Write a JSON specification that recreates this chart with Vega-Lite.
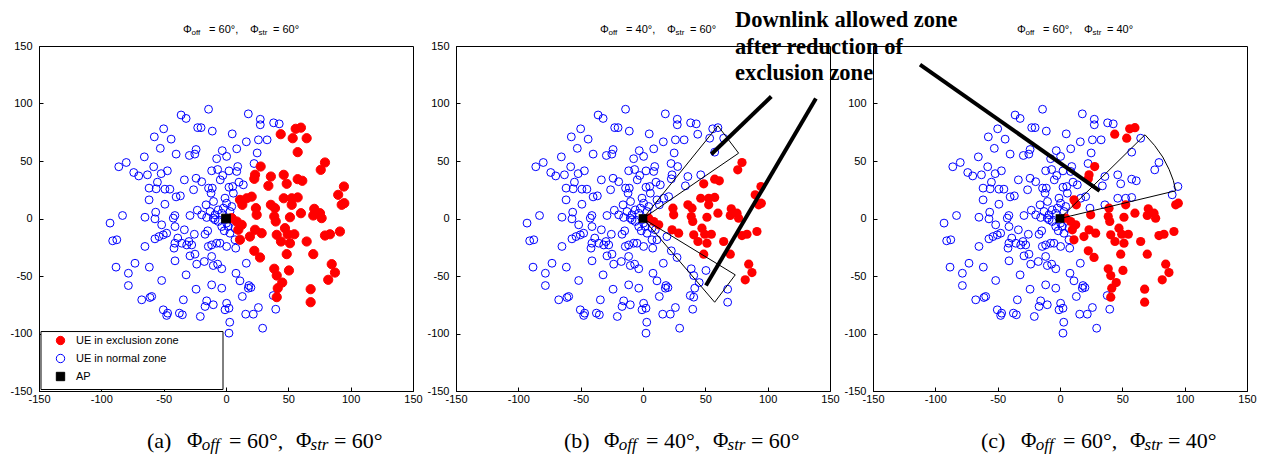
{
"$schema":"https://vega.github.io/schema/vega-lite/v6.json",
"padding":{"left":9,"top":8,"right":0,"bottom":0},
"bounds":"flush",
"spacing":43,
"config":{"view":{"stroke":"#000","strokeWidth":1},
"axis":{"grid":false,"domainColor":"#000","tickColor":"#000","labelColor":"#000","labelFont":"Liberation Sans","labelFontSize":11,"tickSize":-4,"labelOverlap":false,"labelFlush":false},
"axisX":{"labelPadding":6},"axisY":{"labelPadding":11}},
"datasets":{
"one":[{}],
"pts":[
{"x":-14,"y":95,"a":"n","b":"n","c":"n"},{"x":-36,"y":90,"a":"n","b":"n","c":"n"},{"x":-32,"y":87,"a":"n","b":"n","c":"n"},{"x":-22.7,"y":79,"a":"n","b":"n","c":"n"},{"x":-20,"y":79,"a":"n","b":"n","c":"n"},{"x":-11,"y":76,"a":"n","b":"n","c":"n"},{"x":-50,"y":78,"a":"n","b":"n","c":"n"},{"x":-57.5,"y":71,"a":"n","b":"n","c":"n"},{"x":-44,"y":69,"a":"n","b":"n","c":"n"},{"x":-52.7,"y":61,"a":"n","b":"n","c":"n"},{"x":-24,"y":60,"a":"n","b":"n","c":"n"},{"x":-25,"y":56,"a":"n","b":"n","c":"n"},{"x":-29.4,"y":54.8,"a":"n","b":"n","c":"n"},{"x":-40,"y":56,"a":"n","b":"n","c":"n"},{"x":-3,"y":59,"a":"n","b":"n","c":"n"},{"x":-7.5,"y":52,"a":"n","b":"n","c":"n"},{"x":0.5,"y":54,"a":"n","b":"n","c":"n"},{"x":-65.5,"y":53.6,"a":"n","b":"n","c":"n"},{"x":-80,"y":48.7,"a":"n","b":"n","c":"n"},{"x":-86,"y":45,"a":"n","b":"n","c":"n"},{"x":-58,"y":45,"a":"n","b":"n","c":"n"},{"x":-74,"y":40,"a":"n","b":"n","c":"n"},{"x":-70,"y":37,"a":"n","b":"n","c":"n"},{"x":-63,"y":38,"a":"n","b":"n","c":"n"},{"x":-52,"y":39,"a":"n","b":"n","c":"n"},{"x":-47,"y":41.5,"a":"n","b":"n","c":"n"},{"x":-33.4,"y":33.6,"a":"n","b":"n","c":"n"},{"x":-24,"y":35,"a":"n","b":"n","c":"n"},{"x":-19.5,"y":32,"a":"n","b":"n","c":"n"},{"x":-11.5,"y":41.5,"a":"n","b":"n","c":"n"},{"x":-6.7,"y":42.6,"a":"n","b":"n","c":"n"},{"x":-4.6,"y":33.6,"a":"n","b":"n","c":"n"},{"x":-2.6,"y":37.4,"a":"n","b":"n","c":"n"},{"x":-55,"y":31.6,"a":"n","b":"n","c":"n"},{"x":-61.7,"y":26.4,"a":"n","b":"n","c":"n"},{"x":-56,"y":25.8,"a":"n","b":"n","c":"n"},{"x":-49,"y":25.5,"a":"n","b":"n","c":"n"},{"x":-45,"y":25.5,"a":"n","b":"n","c":"n"},{"x":-26,"y":25,"a":"n","b":"n","c":"n"},{"x":-14,"y":26.4,"a":"n","b":"n","c":"n"},{"x":-11,"y":26.4,"a":"n","b":"n","c":"n"},{"x":-12,"y":22,"a":"n","b":"n","c":"n"},{"x":-61.7,"y":16.2,"a":"n","b":"n","c":"n"},{"x":-49,"y":12.4,"a":"n","b":"n","c":"n"},{"x":-40,"y":18.8,"a":"n","b":"n","c":"n"},{"x":-36.6,"y":19.7,"a":"n","b":"n","c":"n"},{"x":-16,"y":11.9,"a":"n","b":"n","c":"n"},{"x":-10,"y":14.8,"a":"n","b":"n","c":"n"},{"x":-23,"y":7.2,"a":"n","b":"n","c":"n"},{"x":-0.8,"y":17.7,"a":"n","b":"n","c":"n"},{"x":0.5,"y":13.3,"a":"n","b":"n","c":"n"},{"x":-2.1,"y":9,"a":"n","b":"n","c":"n"},{"x":-6.2,"y":7.5,"a":"n","b":"n","c":"n"},{"x":-12.8,"y":6.1,"a":"n","b":"n","c":"n"},{"x":-8.8,"y":3.2,"a":"n","b":"n","c":"n"},{"x":-3.5,"y":4.6,"a":"n","b":"n","c":"n"},
{"x":17.9,"y":91,"a":"n","b":"n","c":"n"},{"x":27.5,"y":86.3,"a":"n","b":"n","c":"n"},{"x":27.5,"y":81.5,"a":"n","b":"n","c":"n"},{"x":38.2,"y":83.2,"a":"n","b":"n","c":"n"},{"x":42.7,"y":82.3,"a":"n","b":"n","c":"n"},{"x":5,"y":73.6,"a":"n","b":"n","c":"n"},{"x":16.3,"y":66.7,"a":"n","b":"n","c":"n"},{"x":26,"y":68.4,"a":"n","b":"n","c":"n"},{"x":33,"y":68.4,"a":"n","b":"n","c":"n"},{"x":8.6,"y":60.6,"a":"n","b":"n","c":"n"},{"x":25,"y":57,"a":"n","b":"n","c":"n"},{"x":22.5,"y":47.8,"a":"n","b":"n","c":"n"},{"x":9.4,"y":45.2,"a":"n","b":"n","c":"n"},{"x":8.6,"y":40.9,"a":"n","b":"n","c":"n"},{"x":2.4,"y":41.4,"a":"n","b":"n","c":"n"},{"x":10.4,"y":31.6,"a":"n","b":"n","c":"n"},{"x":13.9,"y":29.3,"a":"n","b":"n","c":"n"},{"x":5.4,"y":27.8,"a":"n","b":"n","c":"n"},{"x":2.4,"y":27.2,"a":"n","b":"n","c":"n"},{"x":5.9,"y":22,"a":"n","b":"n","c":"n"},{"x":4.6,"y":10.4,"a":"n","b":"n","c":"n"},{"x":3.2,"y":6.1,"a":"n","b":"n","c":"n"},
{"x":-83,"y":2.6,"a":"n","b":"n","c":"n"},{"x":-65,"y":1.1,"a":"n","b":"n","c":"n"},{"x":-57,"y":-0.3,"a":"n","b":"n","c":"n"},{"x":-56.4,"y":5.5,"a":"n","b":"n","c":"n"},{"x":-42.3,"y":0.3,"a":"n","b":"n","c":"n"},{"x":-41,"y":2.6,"a":"n","b":"n","c":"n"},{"x":-28.9,"y":2.6,"a":"n","b":"n","c":"n"},{"x":-19.5,"y":3.2,"a":"n","b":"n","c":"n"},{"x":-15.5,"y":0.9,"a":"n","b":"n","c":"n"},{"x":-10.2,"y":0.3,"a":"n","b":"n","c":"n"},{"x":-93,"y":-4,"a":"n","b":"n","c":"n"},{"x":-51.6,"y":-5.5,"a":"n","b":"n","c":"n"},{"x":-40.9,"y":-7,"a":"n","b":"n","c":"n"},{"x":-33.4,"y":-9.8,"a":"n","b":"n","c":"n"},{"x":-25.4,"y":-13.7,"a":"n","b":"n","c":"n"},{"x":-16.8,"y":-13.7,"a":"n","b":"n","c":"n"},{"x":-14.7,"y":-10.7,"a":"n","b":"n","c":"n"},{"x":-3.4,"y":-7,"a":"n","b":"n","c":"n"},{"x":-1.4,"y":-10.7,"a":"n","b":"n","c":"n"},{"x":-90.9,"y":-19.4,"a":"n","b":"n","c":"n"},{"x":-87.6,"y":-18.5,"a":"n","b":"n","c":"n"},{"x":-57,"y":-17.7,"a":"n","b":"n","c":"n"},{"x":-53.7,"y":-15.7,"a":"n","b":"n","c":"n"},{"x":-50.3,"y":-14.2,"a":"n","b":"n","c":"n"},{"x":-47.6,"y":-12.8,"a":"n","b":"n","c":"n"},{"x":-41,"y":-21.5,"a":"n","b":"n","c":"n"},{"x":-38.7,"y":-17,"a":"n","b":"n","c":"n"},{"x":-35.5,"y":-21.5,"a":"n","b":"n","c":"n"},{"x":-31.5,"y":-23,"a":"n","b":"n","c":"n"},{"x":-29.7,"y":-20,"a":"n","b":"n","c":"n"},{"x":-27.5,"y":-23,"a":"n","b":"n","c":"n"},{"x":-65,"y":-24.3,"a":"n","b":"n","c":"n"},{"x":-41.7,"y":-25.8,"a":"n","b":"n","c":"n"},{"x":-24.9,"y":-31,"a":"n","b":"n","c":"n"},{"x":-28.9,"y":-32.5,"a":"n","b":"n","c":"n"},{"x":-14.2,"y":-24.3,"a":"n","b":"n","c":"n"},{"x":-11.5,"y":-23,"a":"n","b":"n","c":"n"},{"x":-7.5,"y":-21.5,"a":"n","b":"n","c":"n"},{"x":-4.8,"y":-21.5,"a":"n","b":"n","c":"n"},{"x":0.5,"y":-24.3,"a":"n","b":"n","c":"n"},{"x":-11.5,"y":-33,"a":"n","b":"n","c":"n"},{"x":-40.9,"y":-36.8,"a":"n","b":"n","c":"n"},{"x":-23.5,"y":-39.7,"a":"n","b":"n","c":"n"},{"x":-17.4,"y":-37.4,"a":"n","b":"n","c":"n"},{"x":-10.2,"y":-40.9,"a":"n","b":"n","c":"n"},{"x":-6.7,"y":-39.7,"a":"n","b":"n","c":"n"},{"x":-3.4,"y":-43.7,"a":"n","b":"n","c":"n"},{"x":-88.2,"y":-42.3,"a":"n","b":"n","c":"n"},{"x":-61.5,"y":-42.3,"a":"n","b":"n","c":"n"},{"x":-73,"y":-38.9,"a":"n","b":"n","c":"n"},{"x":-78.3,"y":-47.6,"a":"n","b":"n","c":"n"},{"x":-78.3,"y":-58.3,"a":"n","b":"n","c":"n"},{"x":-51.6,"y":-53.9,"a":"n","b":"n","c":"n"},{"x":-32,"y":-49,"a":"n","b":"n","c":"n"},{"x":-24,"y":-61.5,"a":"n","b":"n","c":"n"},{"x":-11.5,"y":-57.7,"a":"n","b":"n","c":"n"},{"x":-3.4,"y":-60.6,"a":"n","b":"n","c":"n"},{"x":-67.6,"y":-70.7,"a":"n","b":"n","c":"n"},{"x":-61,"y":-68.7,"a":"n","b":"n","c":"n"},{"x":-59.6,"y":-67.8,"a":"n","b":"n","c":"n"},{"x":-34.2,"y":-70.7,"a":"n","b":"n","c":"n"},{"x":-15.5,"y":-71.6,"a":"n","b":"n","c":"n"},{"x":-16.8,"y":-76.5,"a":"n","b":"n","c":"n"},{"x":-10.2,"y":-75,"a":"n","b":"n","c":"n"},{"x":-50.3,"y":-79.4,"a":"n","b":"n","c":"n"},{"x":-46.8,"y":-82.3,"a":"n","b":"n","c":"n"},{"x":-47.6,"y":-84.3,"a":"n","b":"n","c":"n"},{"x":-37.4,"y":-82.3,"a":"n","b":"n","c":"n"},{"x":-35,"y":-83.7,"a":"n","b":"n","c":"n"},{"x":-20.6,"y":-85.2,"a":"n","b":"n","c":"n"},{"x":-6.2,"y":-2.6,"a":"n","b":"n","c":"n"},{"x":0.5,"y":-4,"a":"n","b":"n","c":"n"},{"x":-8.8,"y":-1.1,"a":"n","b":"n","c":"n"},
{"x":1.8,"y":-7,"a":"n","b":"n","c":"n"},{"x":7.2,"y":-8.4,"a":"n","b":"n","c":"n"},{"x":3.2,"y":-12.8,"a":"n","b":"n","c":"n"},{"x":7.2,"y":-18.5,"a":"n","b":"n","c":"n"},{"x":7.8,"y":-25.8,"a":"n","b":"n","c":"n"},{"x":16.3,"y":-38.9,"a":"n","b":"n","c":"n"},{"x":8,"y":-47.6,"a":"n","b":"n","c":"n"},{"x":11.2,"y":-54.2,"a":"n","b":"n","c":"n"},{"x":18.4,"y":-58.3,"a":"n","b":"n","c":"n"},{"x":20,"y":-60,"a":"n","b":"n","c":"n"},{"x":17.9,"y":-60.6,"a":"n","b":"n","c":"n"},{"x":13.1,"y":-67.8,"a":"n","b":"n","c":"n"},{"x":37.9,"y":-67,"a":"n","b":"n","c":"n"},{"x":0.5,"y":-73.7,"a":"n","b":"n","c":"n"},{"x":2.4,"y":-78,"a":"n","b":"n","c":"n"},{"x":-0.8,"y":-79.4,"a":"n","b":"n","c":"n"},{"x":26,"y":-77.4,"a":"n","b":"n","c":"n"},{"x":15.8,"y":-83.2,"a":"n","b":"n","c":"n"},{"x":21.9,"y":-83.2,"a":"n","b":"n","c":"n"},{"x":39.9,"y":-78.9,"a":"n","b":"n","c":"n"},{"x":3,"y":-90.2,"a":"n","b":"n","c":"n"},{"x":29.4,"y":-95.4,"a":"n","b":"n","c":"n"},{"x":2.4,"y":-99.7,"a":"n","b":"n","c":"n"},
{"x":55.9,"y":78,"a":"e","b":"n","c":"e"},{"x":60.1,"y":79,"a":"e","b":"n","c":"e"},{"x":43.9,"y":73.3,"a":"e","b":"n","c":"e"},{"x":53.5,"y":69.8,"a":"e","b":"n","c":"e"},{"x":64.7,"y":69.8,"a":"e","b":"n","c":"n"},{"x":57.5,"y":57.7,"a":"e","b":"n","c":"n"},{"x":79.4,"y":48.7,"a":"e","b":"e","c":"n"},{"x":76,"y":42.3,"a":"e","b":"e","c":"n"},{"x":27.8,"y":45.2,"a":"e","b":"n","c":"e"},{"x":23.3,"y":38,"a":"e","b":"n","c":"e"},{"x":22.7,"y":34.5,"a":"e","b":"n","c":"e"},{"x":36,"y":36.5,"a":"e","b":"n","c":"n"},{"x":46.3,"y":38,"a":"e","b":"n","c":"n"},{"x":48.7,"y":30.2,"a":"e","b":"e","c":"n"},{"x":57.5,"y":34.2,"a":"e","b":"e","c":"n"},{"x":61.2,"y":32.8,"a":"e","b":"e","c":"n"},{"x":34,"y":28.4,"a":"e","b":"n","c":"n"},{"x":94.6,"y":27.8,"a":"e","b":"e","c":"n"},{"x":90,"y":20.6,"a":"e","b":"e","c":"n"},{"x":92.8,"y":11.9,"a":"e","b":"e","c":"e"},{"x":94.9,"y":13.3,"a":"e","b":"e","c":"e"},{"x":20.6,"y":19,"a":"e","b":"n","c":"n"},{"x":16.6,"y":17.6,"a":"e","b":"n","c":"n"},{"x":11.2,"y":16.2,"a":"e","b":"n","c":"e"},{"x":13.1,"y":11.9,"a":"e","b":"n","c":"e"},{"x":46.3,"y":17.6,"a":"e","b":"e","c":"n"},{"x":52.7,"y":17.6,"a":"e","b":"e","c":"n"},{"x":57.5,"y":18.3,"a":"e","b":"e","c":"n"},{"x":52.7,"y":11.9,"a":"e","b":"e","c":"e"},{"x":36,"y":11.9,"a":"e","b":"e","c":"n"},{"x":39.3,"y":9,"a":"e","b":"e","c":"e"},{"x":24,"y":9,"a":"e","b":"e","c":"n"},{"x":60.1,"y":4.6,"a":"e","b":"e","c":"e"},{"x":70.8,"y":8.4,"a":"e","b":"e","c":"e"},{"x":70,"y":2.6,"a":"e","b":"e","c":"e"},{"x":76.7,"y":0.3,"a":"e","b":"e","c":"e"},{"x":75.4,"y":4.6,"a":"e","b":"e","c":"e"},{"x":24.6,"y":3.2,"a":"e","b":"e","c":"e"},{"x":38.7,"y":1.7,"a":"e","b":"e","c":"e"},{"x":39.9,"y":-2.6,"a":"e","b":"e","c":"e"},{"x":51.3,"y":1.1,"a":"e","b":"e","c":"e"},{"x":8.6,"y":-2.6,"a":"e","b":"e","c":"e"},{"x":12.6,"y":-5.5,"a":"e","b":"e","c":"e"},{"x":9.9,"y":-9.8,"a":"e","b":"n","c":"e"},{"x":4.6,"y":0.3,"a":"e","b":"e","c":"e"},{"x":23.3,"y":-9.8,"a":"e","b":"e","c":"e"},{"x":28.6,"y":-12.8,"a":"e","b":"e","c":"e"},{"x":40.7,"y":-14.2,"a":"e","b":"e","c":"e"},{"x":47.3,"y":-8.4,"a":"e","b":"e","c":"e"},{"x":49.5,"y":-13.7,"a":"e","b":"e","c":"e"},{"x":54.8,"y":-13.7,"a":"e","b":"e","c":"e"},{"x":44.1,"y":-20,"a":"e","b":"e","c":"e"},{"x":51.3,"y":-21.5,"a":"e","b":"e","c":"e"},{"x":64.7,"y":-20,"a":"e","b":"e","c":"e"},{"x":79.4,"y":-14.8,"a":"e","b":"e","c":"e"},{"x":83.4,"y":-13.7,"a":"e","b":"e","c":"e"},{"x":91.4,"y":-11.3,"a":"e","b":"e","c":"e"},{"x":19.2,"y":-15.7,"a":"e","b":"n","c":"e"},{"x":11.2,"y":-18.5,"a":"e","b":"n","c":"e"},{"x":22.7,"y":-28.1,"a":"e","b":"n","c":"e"},{"x":27.3,"y":-33.9,"a":"e","b":"n","c":"e"},{"x":48.7,"y":-31,"a":"e","b":"e","c":"e"},{"x":70,"y":-31,"a":"e","b":"e","c":"e"},{"x":38.7,"y":-43.7,"a":"e","b":"n","c":"e"},{"x":40.7,"y":-49.6,"a":"e","b":"n","c":"e"},{"x":50.5,"y":-45.2,"a":"e","b":"n","c":"e"},{"x":84.8,"y":-39.7,"a":"e","b":"e","c":"e"},{"x":87.4,"y":-47,"a":"e","b":"e","c":"e"},{"x":82,"y":-53.3,"a":"e","b":"e","c":"e"},{"x":45.1,"y":-55.7,"a":"e","b":"n","c":"e"},{"x":41.5,"y":-60.6,"a":"e","b":"n","c":"e"},{"x":40.7,"y":-68.4,"a":"e","b":"n","c":"e"},{"x":67.9,"y":-61.5,"a":"e","b":"n","c":"e"},{"x":67.9,"y":-72.8,"a":"e","b":"n","c":"e"},
{"x":0,"y":0,"a":"ap","b":"ap","c":"ap"}
],
"wedge":[
{"g":"b1","i":0,"x":0,"y":0},{"g":"b1","i":1,"x":60.1,"y":80.6},{"g":"b1","i":2,"x":76.7,"y":56.8},{"g":"b1","i":3,"x":0,"y":0},
{"g":"b2","i":0,"x":0,"y":0},{"g":"b2","i":1,"x":74,"y":-49},{"g":"b2","i":2,"x":57.5,"y":-72.8},{"g":"b2","i":3,"x":0,"y":0},
{"g":"c1","i":0,"x":0,"y":0},{"g":"c1","i":1,"x":68.2,"y":72.8},{"g":"c1","i":2,"x":75.8,"y":63.6},{"g":"c1","i":3,"x":82.4,"y":53.5},{"g":"c1","i":4,"x":87.5,"y":42.7},{"g":"c1","i":5,"x":90.9,"y":33.1},{"g":"c1","i":6,"x":92.8,"y":24.1},{"g":"c1","i":7,"x":0,"y":0}
]},
"hconcat":[
{"width":374,"height":345,"layer":[
{"data":{"name":"pts"},"transform":[{"filter":"datum.a=='n'"}],"mark":{"type":"point","size":62,"strokeWidth":1,"opacity":1},
"encoding":{"x":{"field":"x","type":"quantitative","scale":{"domain":[-150,150],"nice":false,"zero":false},"axis":{"values":[-150,-100,-50,0,50,100,150],"labelExpr":"'' + datum.value","title":null}},
"y":{"field":"y","type":"quantitative","scale":{"domain":[-150,150],"nice":false,"zero":false},"axis":{"values":[-150,-100,-50,0,50,100,150],"labelExpr":"'' + datum.value","title":null}},
"fill":{"field":"a","type":"nominal","scale":{"domain":["e","n","ap"],"range":["#ff0000","transparent","#000000"]},"legend":{"orient":"bottom-left","offset":3,"title":null,"labelExpr":"datum.label=='e' ? 'UE in exclusion zone' : datum.label=='n' ? 'UE in normal zone' : 'AP'","strokeColor":"transparent","fillColor":"transparent","padding":5,"labelFont":"Liberation Sans","labelFontSize":11,"labelColor":"#000","symbolSize":70,"symbolStrokeWidth":1,"rowPadding":5,"symbolOffset":8,"labelOffset":10}},
"stroke":{"field":"a","type":"nominal","scale":{"domain":["e","n","ap"],"range":["#ff0000","#0000ff","#000000"]},"legend":{"orient":"bottom-left","offset":3,"title":null,"labelExpr":"datum.label=='e' ? 'UE in exclusion zone' : datum.label=='n' ? 'UE in normal zone' : 'AP'","strokeColor":"transparent","fillColor":"transparent","padding":5,"labelFont":"Liberation Sans","labelFontSize":11,"labelColor":"#000","symbolSize":70,"symbolStrokeWidth":1,"rowPadding":5,"symbolOffset":8,"labelOffset":10}},
"shape":{"field":"a","type":"nominal","scale":{"domain":["e","n","ap"],"range":["circle","circle","square"]},"legend":{"orient":"bottom-left","offset":3,"title":null,"labelExpr":"datum.label=='e' ? 'UE in exclusion zone' : datum.label=='n' ? 'UE in normal zone' : 'AP'","strokeColor":"transparent","fillColor":"transparent","padding":5,"labelFont":"Liberation Sans","labelFontSize":11,"labelColor":"#000","symbolSize":70,"symbolStrokeWidth":1,"rowPadding":5,"symbolOffset":8,"labelOffset":10}}}},
{"data":{"name":"pts"},"transform":[{"filter":"datum.a=='e'"}],"mark":{"type":"point","size":85,"strokeWidth":1,"opacity":1},
"encoding":{"x":{"field":"x","type":"quantitative"},"y":{"field":"y","type":"quantitative"},"fill":{"field":"a","type":"nominal"},"stroke":{"field":"a","type":"nominal"},"shape":{"field":"a","type":"nominal"}}},
{"data":{"name":"pts"},"transform":[{"filter":"datum.a=='ap'"}],"mark":{"type":"point","size":75,"strokeWidth":1,"opacity":1},
"encoding":{"x":{"field":"x","type":"quantitative"},"y":{"field":"y","type":"quantitative"},"fill":{"field":"a","type":"nominal"},"stroke":{"field":"a","type":"nominal"},"shape":{"field":"a","type":"nominal"}}},
{"data":{"name":"one"},"mark":{"type":"rect","fill":"#fff","stroke":"#000","strokeWidth":1},"encoding":{"x":{"datum":-148.4},"x2":{"datum":-2.4},"y":{"datum":-98.3},"y2":{"datum":-148.7}}},
{"data":{"name":"one"},"mark":{"type":"text","text":"Φ","align":"left","font":"Liberation Sans","fontSize":11,"color":"#000"},"encoding":{"x":{"datum":-34.5},"y":{"datum":163.5}}},
{"data":{"name":"one"},"mark":{"type":"text","text":"off","align":"left","font":"Liberation Sans","fontSize":8,"dy":3,"color":"#000"},"encoding":{"x":{"datum":-27.7},"y":{"datum":163.5}}},
{"data":{"name":"one"},"mark":{"type":"text","text":"= 60°,","align":"left","font":"Liberation Sans","fontSize":11,"color":"#000"},"encoding":{"x":{"datum":-13.6},"y":{"datum":163.5}}},
{"data":{"name":"one"},"mark":{"type":"text","text":"Φ","align":"left","font":"Liberation Sans","fontSize":11,"color":"#000"},"encoding":{"x":{"datum":19.2},"y":{"datum":163.5}}},
{"data":{"name":"one"},"mark":{"type":"text","text":"str","align":"left","font":"Liberation Sans","fontSize":8,"dy":3,"color":"#000"},"encoding":{"x":{"datum":26.1},"y":{"datum":163.5}}},
{"data":{"name":"one"},"mark":{"type":"text","text":"= 60°","align":"left","font":"Liberation Sans","fontSize":11,"color":"#000"},"encoding":{"x":{"datum":37.7},"y":{"datum":163.5}}},
{"data":{"name":"one"},"mark":{"type":"text","text":"(a)","align":"left","font":"Liberation Serif","fontSize":22,"color":"#000"},"encoding":{"x":{"datum":-63.4},"y":{"datum":-193.1}}},
{"data":{"name":"one"},"mark":{"type":"text","text":"Φ","align":"left","font":"Liberation Serif","fontSize":21,"color":"#000"},"encoding":{"x":{"datum":-31.3},"y":{"datum":-193.1}}},
{"data":{"name":"one"},"mark":{"type":"text","text":"off","align":"left","font":"Liberation Serif","fontStyle":"italic","fontSize":17,"dy":4,"color":"#000"},"encoding":{"x":{"datum":-19.5},"y":{"datum":-193.1}}},
{"data":{"name":"one"},"mark":{"type":"text","text":"=  60°,","align":"left","font":"Liberation Serif","fontSize":22,"color":"#000"},"encoding":{"x":{"datum":2.4},"y":{"datum":-193.1}}},
{"data":{"name":"one"},"mark":{"type":"text","text":"Φ","align":"left","font":"Liberation Serif","fontSize":21,"color":"#000"},"encoding":{"x":{"datum":56.1},"y":{"datum":-193.1}}},
{"data":{"name":"one"},"mark":{"type":"text","text":"str","align":"left","font":"Liberation Serif","fontStyle":"italic","fontSize":17,"dy":4,"color":"#000"},"encoding":{"x":{"datum":67.8},"y":{"datum":-193.1}}},
{"data":{"name":"one"},"mark":{"type":"text","text":"=  60°","align":"left","font":"Liberation Serif","fontSize":22,"color":"#000"},"encoding":{"x":{"datum":86.6},"y":{"datum":-193.1}}}
]},
{"width":374,"height":345,"layer":[
{"data":{"name":"pts"},"transform":[{"filter":"datum.b=='n'"}],"mark":{"type":"point","size":62,"strokeWidth":1,"opacity":1,"filled":false,"color":"#0000ff"},
"encoding":{"x":{"field":"x","type":"quantitative","scale":{"domain":[-150,150],"nice":false,"zero":false},"axis":{"values":[-150,-100,-50,0,50,100,150],"labelExpr":"'' + datum.value","title":null}},
"y":{"field":"y","type":"quantitative","scale":{"domain":[-150,150],"nice":false,"zero":false},"axis":{"values":[-150,-100,-50,0,50,100,150],"labelExpr":"'' + datum.value","title":null}}}},
{"data":{"name":"pts"},"transform":[{"filter":"datum.b=='e'"}],"mark":{"type":"point","size":85,"opacity":1,"filled":true,"color":"#ff0000"},"encoding":{"x":{"field":"x","type":"quantitative"},"y":{"field":"y","type":"quantitative"}}},
{"data":{"name":"pts"},"transform":[{"filter":"datum.b=='ap'"}],"mark":{"type":"square","size":75,"opacity":1,"filled":true,"color":"#000"},"encoding":{"x":{"field":"x","type":"quantitative"},"y":{"field":"y","type":"quantitative"}}},
{"data":{"name":"wedge"},"transform":[{"filter":"datum.g[0]=='b'"}],"mark":{"type":"line","color":"#000","strokeWidth":1},"encoding":{"x":{"field":"x","type":"quantitative"},"y":{"field":"y","type":"quantitative"},"order":{"field":"i"},"detail":{"field":"g"}}},
{"data":{"name":"one"},"mark":{"type":"rule","color":"#000","strokeWidth":4},"encoding":{"x":{"datum":102.9},"y":{"datum":106.1},"x2":{"datum":54.8},"y2":{"datum":55.9}}},
{"data":{"name":"one"},"mark":{"type":"rule","color":"#000","strokeWidth":4},"encoding":{"x":{"datum":138.7},"y":{"datum":104.3},"x2":{"datum":50.5},"y2":{"datum":-58.3}}},
{"data":{"name":"one"},"mark":{"type":"text","text":"Downlink allowed zone\nafter reduction of\nexclusion zone","lineBreak":"\n","lineHeight":26.5,"align":"left","font":"Liberation Serif","fontWeight":"bold","fontSize":22.5,"color":"#000"},"encoding":{"x":{"datum":73.8},"y":{"datum":172.2}}},
{"data":{"name":"one"},"mark":{"type":"text","text":"Φ","align":"left","font":"Liberation Sans","fontSize":11,"color":"#000"},"encoding":{"x":{"datum":-34.5},"y":{"datum":163.5}}},
{"data":{"name":"one"},"mark":{"type":"text","text":"off","align":"left","font":"Liberation Sans","fontSize":8,"dy":3,"color":"#000"},"encoding":{"x":{"datum":-27.7},"y":{"datum":163.5}}},
{"data":{"name":"one"},"mark":{"type":"text","text":"= 40°,","align":"left","font":"Liberation Sans","fontSize":11,"color":"#000"},"encoding":{"x":{"datum":-13.6},"y":{"datum":163.5}}},
{"data":{"name":"one"},"mark":{"type":"text","text":"Φ","align":"left","font":"Liberation Sans","fontSize":11,"color":"#000"},"encoding":{"x":{"datum":19.2},"y":{"datum":163.5}}},
{"data":{"name":"one"},"mark":{"type":"text","text":"str","align":"left","font":"Liberation Sans","fontSize":8,"dy":3,"color":"#000"},"encoding":{"x":{"datum":26.1},"y":{"datum":163.5}}},
{"data":{"name":"one"},"mark":{"type":"text","text":"= 60°","align":"left","font":"Liberation Sans","fontSize":11,"color":"#000"},"encoding":{"x":{"datum":37.7},"y":{"datum":163.5}}},
{"data":{"name":"one"},"mark":{"type":"text","text":"(b)","align":"left","font":"Liberation Serif","fontSize":22,"color":"#000"},"encoding":{"x":{"datum":-63.4},"y":{"datum":-193.1}}},
{"data":{"name":"one"},"mark":{"type":"text","text":"Φ","align":"left","font":"Liberation Serif","fontSize":21,"color":"#000"},"encoding":{"x":{"datum":-31.3},"y":{"datum":-193.1}}},
{"data":{"name":"one"},"mark":{"type":"text","text":"off","align":"left","font":"Liberation Serif","fontStyle":"italic","fontSize":17,"dy":4,"color":"#000"},"encoding":{"x":{"datum":-19.5},"y":{"datum":-193.1}}},
{"data":{"name":"one"},"mark":{"type":"text","text":"=  40°,","align":"left","font":"Liberation Serif","fontSize":22,"color":"#000"},"encoding":{"x":{"datum":2.4},"y":{"datum":-193.1}}},
{"data":{"name":"one"},"mark":{"type":"text","text":"Φ","align":"left","font":"Liberation Serif","fontSize":21,"color":"#000"},"encoding":{"x":{"datum":56.1},"y":{"datum":-193.1}}},
{"data":{"name":"one"},"mark":{"type":"text","text":"str","align":"left","font":"Liberation Serif","fontStyle":"italic","fontSize":17,"dy":4,"color":"#000"},"encoding":{"x":{"datum":67.8},"y":{"datum":-193.1}}},
{"data":{"name":"one"},"mark":{"type":"text","text":"=  60°","align":"left","font":"Liberation Serif","fontSize":22,"color":"#000"},"encoding":{"x":{"datum":86.6},"y":{"datum":-193.1}}}
]},
{"width":374,"height":345,"layer":[
{"data":{"name":"pts"},"transform":[{"filter":"datum.c=='n'"}],"mark":{"type":"point","size":62,"strokeWidth":1,"opacity":1,"filled":false,"color":"#0000ff"},
"encoding":{"x":{"field":"x","type":"quantitative","scale":{"domain":[-150,150],"nice":false,"zero":false},"axis":{"values":[-150,-100,-50,0,50,100,150],"labelExpr":"'' + datum.value","title":null}},
"y":{"field":"y","type":"quantitative","scale":{"domain":[-150,150],"nice":false,"zero":false},"axis":{"values":[-150,-100,-50,0,50,100,150],"labelExpr":"datum.value == 150 ? '' : '' + datum.value","title":null}}}},
{"data":{"name":"pts"},"transform":[{"filter":"datum.c=='e'"}],"mark":{"type":"point","size":85,"opacity":1,"filled":true,"color":"#ff0000"},"encoding":{"x":{"field":"x","type":"quantitative"},"y":{"field":"y","type":"quantitative"}}},
{"data":{"name":"pts"},"transform":[{"filter":"datum.c=='ap'"}],"mark":{"type":"square","size":75,"opacity":1,"filled":true,"color":"#000"},"encoding":{"x":{"field":"x","type":"quantitative"},"y":{"field":"y","type":"quantitative"}}},
{"data":{"name":"wedge"},"transform":[{"filter":"datum.g[0]=='c'"}],"mark":{"type":"line","color":"#000","strokeWidth":1},"encoding":{"x":{"field":"x","type":"quantitative"},"y":{"field":"y","type":"quantitative"},"order":{"field":"i"},"detail":{"field":"g"}}},
{"data":{"name":"one"},"mark":{"type":"rule","color":"#000","strokeWidth":4},"encoding":{"x":{"datum":-112.3},"y":{"datum":133.9},"x2":{"datum":31.8},"y2":{"datum":24.1}}},
{"data":{"name":"one"},"mark":{"type":"text","text":"Φ","align":"left","font":"Liberation Sans","fontSize":11,"color":"#000"},"encoding":{"x":{"datum":-34.5},"y":{"datum":163.5}}},
{"data":{"name":"one"},"mark":{"type":"text","text":"off","align":"left","font":"Liberation Sans","fontSize":8,"dy":3,"color":"#000"},"encoding":{"x":{"datum":-27.7},"y":{"datum":163.5}}},
{"data":{"name":"one"},"mark":{"type":"text","text":"= 60°,","align":"left","font":"Liberation Sans","fontSize":11,"color":"#000"},"encoding":{"x":{"datum":-13.6},"y":{"datum":163.5}}},
{"data":{"name":"one"},"mark":{"type":"text","text":"Φ","align":"left","font":"Liberation Sans","fontSize":11,"color":"#000"},"encoding":{"x":{"datum":19.2},"y":{"datum":163.5}}},
{"data":{"name":"one"},"mark":{"type":"text","text":"str","align":"left","font":"Liberation Sans","fontSize":8,"dy":3,"color":"#000"},"encoding":{"x":{"datum":26.1},"y":{"datum":163.5}}},
{"data":{"name":"one"},"mark":{"type":"text","text":"= 40°","align":"left","font":"Liberation Sans","fontSize":11,"color":"#000"},"encoding":{"x":{"datum":37.7},"y":{"datum":163.5}}},
{"data":{"name":"one"},"mark":{"type":"text","text":"(c)","align":"left","font":"Liberation Serif","fontSize":22,"color":"#000"},"encoding":{"x":{"datum":-63.4},"y":{"datum":-193.1}}},
{"data":{"name":"one"},"mark":{"type":"text","text":"Φ","align":"left","font":"Liberation Serif","fontSize":21,"color":"#000"},"encoding":{"x":{"datum":-31.3},"y":{"datum":-193.1}}},
{"data":{"name":"one"},"mark":{"type":"text","text":"off","align":"left","font":"Liberation Serif","fontStyle":"italic","fontSize":17,"dy":4,"color":"#000"},"encoding":{"x":{"datum":-19.5},"y":{"datum":-193.1}}},
{"data":{"name":"one"},"mark":{"type":"text","text":"=  60°,","align":"left","font":"Liberation Serif","fontSize":22,"color":"#000"},"encoding":{"x":{"datum":2.4},"y":{"datum":-193.1}}},
{"data":{"name":"one"},"mark":{"type":"text","text":"Φ","align":"left","font":"Liberation Serif","fontSize":21,"color":"#000"},"encoding":{"x":{"datum":56.1},"y":{"datum":-193.1}}},
{"data":{"name":"one"},"mark":{"type":"text","text":"str","align":"left","font":"Liberation Serif","fontStyle":"italic","fontSize":17,"dy":4,"color":"#000"},"encoding":{"x":{"datum":67.8},"y":{"datum":-193.1}}},
{"data":{"name":"one"},"mark":{"type":"text","text":"=  40°","align":"left","font":"Liberation Serif","fontSize":22,"color":"#000"},"encoding":{"x":{"datum":86.6},"y":{"datum":-193.1}}}
]}
]
}
